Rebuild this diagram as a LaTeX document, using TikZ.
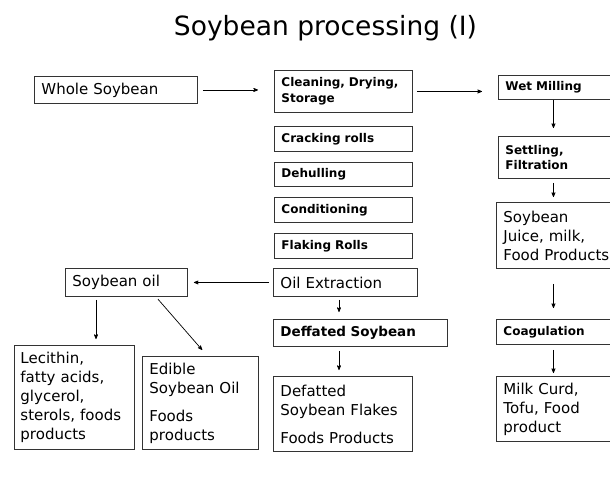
\documentclass[tikz,border=0pt]{standalone}
\usepackage{fontspec}
\setmainfont{DejaVu Sans}
\usetikzlibrary{arrows}

\begin{document}
\begin{tikzpicture}[x=1pt,y=-1pt,>=stealth',
  stepbox/.style={draw=black!80,line width=0.9pt,anchor=north west,inner xsep=7pt,inner ysep=0pt,align=left,font=\bfseries\fontsize{12}{15.5}\selectfont},
  itembox/.style={stepbox,font=\fontsize{15}{19}\selectfont},
  flow/.style={->,line width=0.7pt}]
  \useasboundingbox (0,0) rectangle (610,479);
  \node[anchor=base,font=\fontsize{26.5}{30}\selectfont] (title) at (325.5,35) {Soybean processing (I)};

  % middle column
  \node[itembox,text width=149pt,minimum height=27pt] (whole)  at (34,76)   {Whole Soybean};
  \node[stepbox,text width=124pt,minimum height=42pt] (clean)  at (274,70)  {Cleaning, Drying,\\Storage};
  \node[stepbox,text width=124pt,minimum height=25pt] (crack)  at (274,126) {Cracking rolls};
  \node[stepbox,text width=124pt,minimum height=24pt] (dehull) at (274,162) {Dehulling};
  \node[stepbox,text width=124pt,minimum height=25pt] (cond)   at (274,197) {Conditioning};
  \node[stepbox,text width=124pt,minimum height=25pt] (flake)  at (274,233) {Flaking Rolls};
  \node[itembox,text width=130pt,minimum height=28pt] (oilex)  at (273,268) {Oil Extraction};
  \node[stepbox,text width=160pt,minimum height=27pt,font=\bfseries\fontsize{13.5}{16}\selectfont] (deff) at (273,319) {Deffated Soybean};
  \node[itembox,text width=125pt,minimum height=75pt] (flakes) at (273,376) {Defatted\\Soybean Flakes\\[9pt]Foods Products};

  % oil branch
  \node[itembox,text width=108pt,minimum height=28pt] (soyoil) at (65,268)  {Soybean oil};
  \node[itembox,inner xsep=6pt,text width=108pt,minimum height=104pt] (lec) at (14,345) {Lecithin,\\fatty acids,\\glycerol,\\sterols, foods\\products};
  \node[itembox,text width=102pt,minimum height=93pt] (edible) at (142,356) {Edible\\Soybean Oil\\[9pt]Foods\\products};

  % wet milling branch
  \node[stepbox,text width=104pt,minimum height=24pt] (wet)    at (498,75)  {Wet Milling};
  \node[stepbox,text width=104pt,minimum height=42pt] (settle) at (498,136) {Settling,\\Filtration};
  \node[itembox,text width=106pt,minimum height=66pt] (juice)  at (496,202) {Soybean\\Juice, milk,\\Food Products};
  \node[stepbox,text width=106pt,minimum height=25pt] (coag)   at (496,319) {Coagulation};
  \node[itembox,text width=106pt,minimum height=65pt] (curd)   at (496,376) {Milk Curd,\\Tofu, Food\\product};

  \draw[flow,shorten <=5pt,shorten >=16pt] (whole.east) -- (whole.east -| clean.west);
  \draw[flow,shorten <=4pt,shorten >=16pt] (clean.east) -- (clean.east -| wet.west);
  \draw[flow,shorten >=8pt] ([xshift=-4pt]wet.south) -- ([xshift=-4pt]settle.north);
  \draw[flow,shorten <=4pt,shorten >=5pt] ([xshift=-4pt]settle.south) -- ([xshift=-4pt]settle.south |- juice.north);
  \draw[flow,shorten <=15pt,shorten >=11pt] ([xshift=-3pt]juice.south) -- ([xshift=-3pt]coag.north);
  \draw[flow,shorten <=5pt,shorten >=3pt] ([xshift=-3pt]coag.south) -- ([xshift=-3pt]curd.north);
  \draw[flow,shorten <=3pt,shorten >=7pt] ([xshift=66pt]oilex.south west) -- ([xshift=66pt]oilex.south west |- deff.north);
  \draw[flow,shorten <=4pt,shorten >=6pt] ([xshift=66pt]deff.south west) -- ([xshift=66pt]deff.south west |- flakes.north);
  \draw[flow,shorten <=4pt,shorten >=6pt] (oilex.west) -- (soyoil.east);
  \draw[flow,shorten <=3pt,shorten >=6pt] ([xshift=31pt]soyoil.south west) -- ([xshift=31pt]soyoil.south west |- lec.north);
  \draw[flow,shorten <=3pt,shorten >=8pt] ([xshift=91pt]soyoil.south west) -- ([xshift=7pt]edible.north);
\end{tikzpicture}
\end{document}
